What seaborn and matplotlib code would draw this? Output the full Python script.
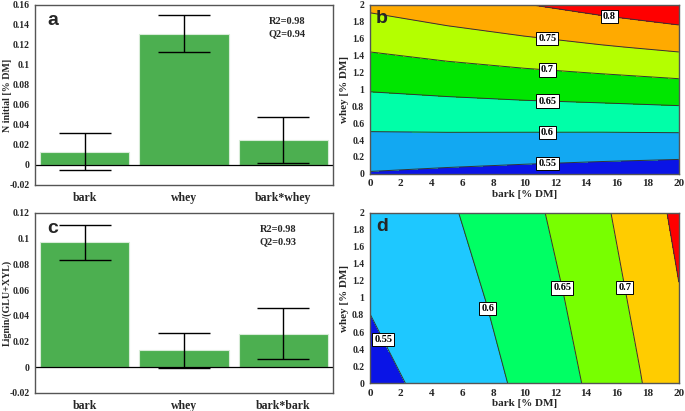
import numpy as np
import pandas as pd
import matplotlib
matplotlib.use("Agg")
import matplotlib.pyplot as plt
import seaborn as sns
from matplotlib.ticker import MultipleLocator, AutoMinorLocator

# ---------------- data ----------------
cats_a = ["bark", "whey", "bark*whey"]
vals_a = [0.013, 0.131, 0.0245]
errs_a = [0.0185, 0.0185, 0.023]

cats_c = ["bark", "whey", "bark*bark"]
vals_c = [0.097, 0.013, 0.026]
errs_c = [0.0137, 0.0135, 0.020]

# response surface b (grid values)
bx = [0, 5, 10, 15, 20]
by = [0, 0.5, 1.0, 1.5, 2.0]
bz = [  # rows: by, cols: bx
    [0.547, 0.541, 0.535, 0.529, 0.523],
    [0.600, 0.601, 0.601, 0.601, 0.602],
    [0.653, 0.660, 0.667, 0.673, 0.680],
    [0.706, 0.720, 0.733, 0.746, 0.759],
    [0.760, 0.779, 0.798, 0.818, 0.837],
]
levels_b = [0.4, 0.55, 0.6, 0.65, 0.7, 0.75, 0.8, 1.0]
colors_b = ["#0a14e6", "#12a8f2", "#00ffa8", "#00e600", "#b4ff00", "#ffaa00", "#ff0000"]

# response surface d
dx = [0, 2.5, 5, 7.5, 10, 12.5, 15, 17.5, 20]
dy = [0, 2.0]
dz = [
    [0.539, 0.551, 0.567, 0.587, 0.610, 0.636, 0.665, 0.698, 0.734],
    [0.566, 0.578, 0.594, 0.614, 0.636, 0.662, 0.692, 0.725, 0.761],
]
levels_d = [0.4, 0.55, 0.6, 0.65, 0.7, 0.75, 1.0]
colors_d = ["#0a14e6", "#1ec8ff", "#00ff64", "#78ff00", "#ffcc00", "#ff0000"]

sns.set_theme(style="white")
plt.rcParams["font.family"] = ["Liberation Serif", "DejaVu Serif"]
plt.rcParams["font.weight"] = "bold"
plt.rcParams["axes.labelweight"] = "bold"

fig = plt.figure(figsize=(6.85, 4.11), dpi=100)
ax_a = fig.add_axes([0.0511, 0.550, 0.4349, 0.438])
ax_b = fig.add_axes([0.540, 0.577, 0.451, 0.411])
ax_c = fig.add_axes([0.0511, 0.044, 0.4349, 0.438])
ax_d = fig.add_axes([0.540, 0.068, 0.451, 0.414])

spine_col = "#555555"
bar_col = "#4caf50"
tick_kw = dict(labelsize=7, direction="out", length=3, width=0.8, color="#333333")


def style_axes(ax):
    for s in ax.spines.values():
        s.set_color(spine_col)
        s.set_linewidth(1.0)
    ax.tick_params(axis="both", which="major", **tick_kw)
    ax.tick_params(axis="both", which="minor", direction="out", length=2, width=0.6, color="#333333")
    for lab in ax.get_xticklabels() + ax.get_yticklabels():
        lab.set_fontweight("bold")


def bar_panel(ax, cats, vals, errs, ylim, step, ylabel, letter, r2, q2, txt_x):
    df = pd.DataFrame({"term": cats, "value": vals})
    sns.barplot(data=df, x="term", y="value", color=bar_col, saturation=1,
                width=0.9, edgecolor="#d8ecd8", linewidth=0.8, ax=ax)
    ax.errorbar(range(len(cats)), vals, yerr=errs, fmt="none", ecolor="black",
                elinewidth=1.0, capsize=19, capthick=1.0)
    ax.axhline(0, color="black", lw=0.9)
    ax.set_ylim(*ylim)
    ax.set_xlim(-0.5, len(cats) - 0.5)
    ax.yaxis.set_major_locator(MultipleLocator(step))
    ax.yaxis.set_minor_locator(AutoMinorLocator(2))
    ax.set_xlabel("")
    ax.set_ylabel(ylabel, fontsize=7.2, fontweight="bold")
    ax.yaxis.set_label_coords(-0.077, 0.5)
    ax.yaxis.set_major_formatter(matplotlib.ticker.FuncFormatter(lambda v, p: f"{v:g}"))
    style_axes(ax)
    ax.tick_params(axis="y", pad=1)
    ax.tick_params(axis="x", labelsize=8.5, pad=2)
    ax.text(0.04, 0.96, letter, transform=ax.transAxes, fontsize=14,
            fontweight="bold", family="Liberation Sans", va="top", ha="left")
    ax.text(txt_x, 0.935, f"R2={r2}\nQ2={q2}", transform=ax.transAxes, fontsize=7.5,
            fontweight="bold", va="top", ha="center", linespacing=1.5)


bar_panel(ax_a, cats_a, vals_a, errs_a, (-0.02, 0.16), 0.02, "N initial [% DM]", "a", "0.98", "0.94", 0.845)
bar_panel(ax_c, cats_c, vals_c, errs_c, (-0.02, 0.12), 0.02, "Lignin/(GLU+XYL)", "c", "0.98", "0.93", 0.815)


def contour_panel(ax, x, y, z, levels, colors, label_pos, letter):
    X, Y = np.meshgrid(x, y)
    Z = np.array(z)
    ax.contourf(X, Y, Z, levels=levels, colors=colors)
    lines = ax.contour(X, Y, Z, levels=levels[1:-1], colors="#333333", linewidths=0.7)
    labs = ax.clabel(lines, inline=False, fontsize=7.5, fmt=lambda v: f"{v:g}",
                     manual=label_pos, colors="black")
    for t in labs:
        t.set_rotation(0)
        t.set_fontweight("bold")
        t.set_bbox(dict(boxstyle="square,pad=0.2", fc="white", ec="black", lw=0.7))
    ax.set_xlim(0, 20)
    ax.set_ylim(0, 2)
    ax.xaxis.set_major_locator(MultipleLocator(2))
    ax.xaxis.set_minor_locator(MultipleLocator(1))
    ax.yaxis.set_major_locator(MultipleLocator(0.2))
    ax.yaxis.set_minor_locator(MultipleLocator(0.1))
    ax.yaxis.set_major_formatter(matplotlib.ticker.FuncFormatter(lambda v, p: f"{v:g}"))
    ax.set_xlabel("bark [% DM]", fontsize=8, fontweight="bold", labelpad=1)
    ax.set_ylabel("whey [% DM]", fontsize=8, fontweight="bold")
    ax.yaxis.set_label_coords(-0.068, 0.5)
    style_axes(ax)
    ax.tick_params(axis="both", pad=1)
    ax.tick_params(axis="x", labelsize=8)
    ax.text(0.02, 0.97, letter, transform=ax.transAxes, fontsize=14,
            fontweight="bold", family="Liberation Sans", va="top", ha="left")


contour_panel(ax_b, bx, by, bz, levels_b, colors_b,
              [(11.5, 0.12), (11.5, 0.47), (11.5, 0.85), (11.5, 1.22), (11.5, 1.62), (15.5, 1.86)], "b")
contour_panel(ax_d, dx, dy, dz, levels_d, colors_d,
              [(1.0, 0.52), (7.6, 0.88), (12.5, 1.12), (16.5, 1.12)], "d")

fig.savefig("out.png", dpi=100)
